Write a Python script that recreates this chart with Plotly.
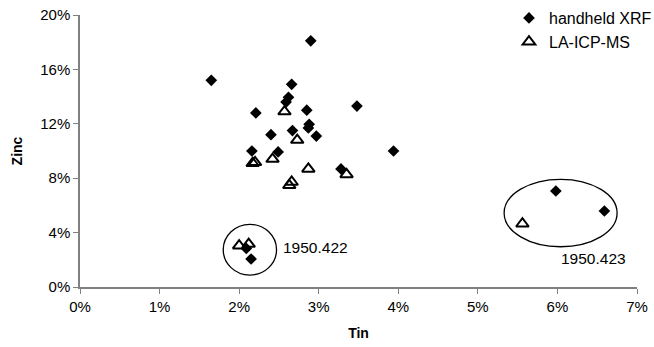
import plotly.graph_objects as go

# handheld XRF (tin %, zinc %)
xrf_tin = [2.90, 1.65, 2.66, 2.62, 2.59, 2.21, 3.48, 2.85, 2.88, 2.87, 2.40, 2.67,
           2.97, 2.16, 2.49, 3.94, 3.28, 2.09, 2.15, 5.98, 6.59]
xrf_zinc = [18.1, 15.2, 14.9, 13.95, 13.6, 12.8, 13.3, 13.0, 11.96, 11.7, 11.2, 11.5,
            11.1, 10.0, 9.93, 10.0, 8.68, 2.84, 2.06, 7.06, 5.59]

# LA-ICP-MS (tin %, zinc %)
icp_tin = [2.57, 2.73, 2.20, 2.17, 2.42, 2.87, 3.35, 2.66, 2.63, 2.00, 2.12, 5.56]
icp_zinc = [12.9, 10.8, 9.17, 9.1, 9.41, 8.68, 8.28, 7.72, 7.48, 3.04, 3.16, 4.65]

# group ellipses: (x0, x1, y0, y1) in data units, and labels
groups = ["1950.422", "1950.423"]
ellipses = [(1.80, 2.47, 0.88, 4.61), (5.33, 6.75, 2.96, 7.92)]
label_pos = [(2.53, 2.89, "left"), (6.45, 2.11, "center")]

x_ticks = [0, 1, 2, 3, 4, 5, 6, 7]
y_ticks = [0, 4, 8, 12, 16, 20]

FONT = "Liberation Sans, Arial, sans-serif"

fig = go.Figure()
fig.add_trace(go.Scatter(
    x=[v / 100 for v in xrf_tin], y=[v / 100 for v in xrf_zinc],
    mode="markers", name="handheld XRF",
    marker=dict(symbol="diamond", size=9, color="black", line=dict(width=0)),
))
fig.add_trace(go.Scatter(
    x=[v / 100 for v in icp_tin], y=[v / 100 for v in icp_zinc],
    mode="markers", name="LA-ICP-MS",
    marker=dict(symbol="triangle-up-open", size=11, color="black", line=dict(width=2, color="black")),
))

for (x0, x1, y0, y1), name, (lx, ly, anc) in zip(ellipses, groups, label_pos):
    fig.add_shape(type="circle", xref="x", yref="y",
                  x0=x0 / 100, x1=x1 / 100, y0=y0 / 100, y1=y1 / 100,
                  line=dict(color="black", width=1.3))
    fig.add_annotation(x=lx / 100, y=ly / 100, text=name, showarrow=False,
                       xanchor=anc, yanchor="middle",
                       font=dict(family=FONT, size=15.5, color="black"))

axis_common = dict(
    showgrid=False, zeroline=False, showline=True, linecolor="#808080", linewidth=1.5,
    ticks="outside", ticklen=5, tickcolor="#808080", tickwidth=1,
    tickformat=".0%", tickfont=dict(family=FONT, size=15, color="black"),
    automargin=False,
)

fig.update_layout(
    width=654, height=347,
    margin=dict(l=80, r=17, t=15, b=60, autoexpand=False),
    paper_bgcolor="white", plot_bgcolor="white",
    font=dict(family=FONT, size=15, color="black"),
    xaxis=dict(range=[0, 0.07], tickvals=[v / 100 for v in x_ticks],
               title=dict(text="<b>Tin</b>", font=dict(family=FONT, size=14), standoff=14),
               **axis_common),
    yaxis=dict(range=[0, 0.20], tickvals=[v / 100 for v in y_ticks],
               title=dict(text="<b>Zinc</b>", font=dict(family=FONT, size=14), standoff=14),
               **axis_common),
    legend=dict(x=509 / 654, y=1.0 - 1 / 347, xref="container", yref="container",
                xanchor="left", yanchor="top",
                bgcolor="rgba(0,0,0,0)", font=dict(family=FONT, size=16, color="black"),
                itemwidth=30, tracegroupgap=0),
    showlegend=True,
)

fig.write_html("out.html")
